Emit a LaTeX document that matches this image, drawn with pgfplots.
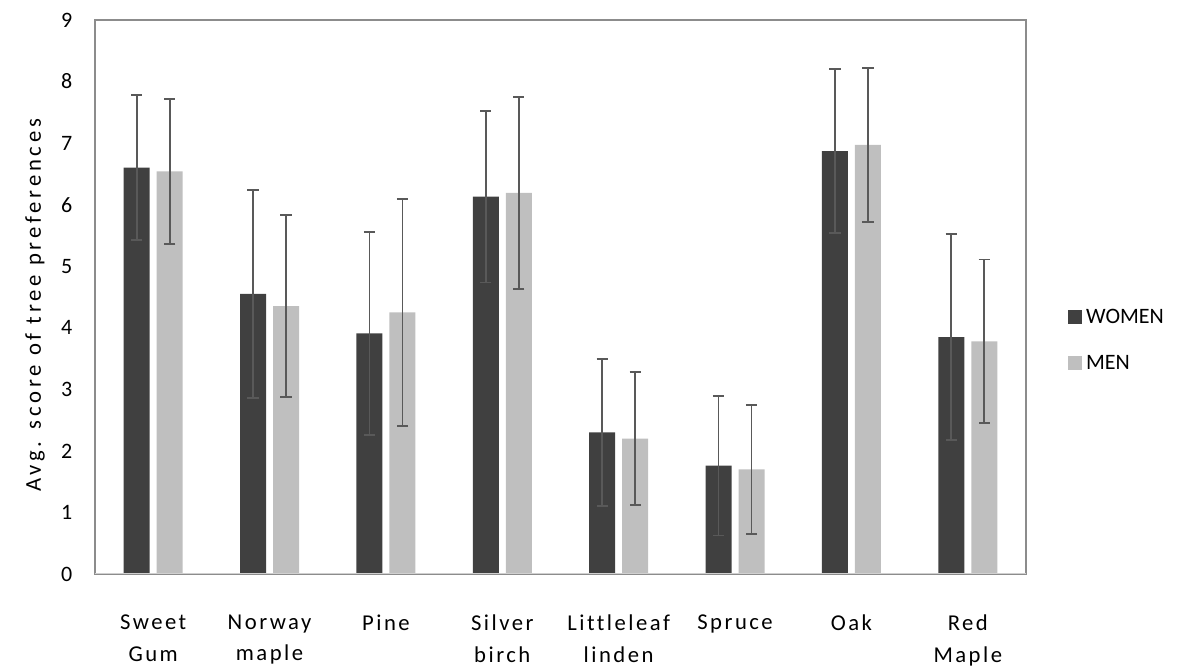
\documentclass[border=0pt]{standalone}
\usepackage{pgfplots}
\pgfplotsset{compat=1.18}
\usepackage{fontspec}
\setmainfont{Carlito}
\newfontfamily\spaced[LetterSpace=11, Ligatures={NoCommon}]{Carlito}
\newfontfamily\spacedlabel[LetterSpace=17, Ligatures={NoCommon}]{Carlito}
\definecolor{darkbar}{HTML}{404040}
\definecolor{lightbar}{HTML}{BFBFBF}
\definecolor{errc}{HTML}{595959}
\definecolor{framec}{HTML}{8C8C8C}
\definecolor{basec}{HTML}{D0D0D0}
\begin{document}
\begin{tikzpicture}
\useasboundingbox (-71.25pt,-69pt) rectangle (812.25pt,430.5pt);
\begin{axis}[
  at={(0,0)}, anchor=south west,
  scale only axis,
  width=698.25pt, height=415.5pt,
  ybar=5.25pt, bar width=19.5pt,
  xmin=-0.5, xmax=7.5,
  ymin=0, ymax=9,
  ytick={0,1,2,3,4,5,6,7,8,9},
  xtick=data,
  xticklabels={{Sweet\\Gum},{Norway\\maple},{Pine},{Silver\\birch},{Littleleaf\\linden},{Spruce},{Oak},{Red\\Maple}},
  major tick length=0pt,
  axis line style={framec, line width=0.9pt},
  /pgf/number format/assume math mode=true,
  yticklabel style={font=\fontsize{16.5}{20}\selectfont, xshift=-13.5pt},
  xticklabel style={font=\fontsize{17}{23.8}\selectfont\spaced, align=center, anchor=north, yshift=-27pt},
  ylabel={Avg. score of tree preferences},
  ylabel style={font=\fontsize{17}{18}\selectfont\spacedlabel, at={(axis description cs:-0.0644,0.485)}, anchor=center},
  legend style={at={(rel axis cs:1.045,0.422)}, anchor=west, draw=none, fill=none,
    font=\fontsize{16.5}{20}\selectfont, row sep=16pt, inner sep=0pt,
    nodes={inner sep=3pt}},
  legend cell align=left,
  legend image code/.code={\fill[#1] (0pt,-5.25pt) rectangle (10.5pt,5.25pt);},
  error bars/y dir=both,
  error bars/y explicit,
  error bars/error bar style={errc, line width=1.4pt},
  error bars/error mark options={errc, rotate=90, mark size=4.2pt, line width=1.4pt},
]
\addplot[fill=darkbar, draw=none] coordinates {
  (0,6.60) +- (0,1.18)
  (1,4.55) +- (0,1.69)
  (2,3.91) +- (0,1.645)
  (3,6.13) +- (0,1.395)
  (4,2.30) +- (0,1.19)
  (5,1.76) +- (0,1.135)
  (6,6.87) +- (0,1.335)
  (7,3.85) +- (0,1.68)
};
\addplot[fill=lightbar, draw=none] coordinates {
  (0,6.54) +- (0,1.175)
  (1,4.35) +- (0,1.48)
  (2,4.25) +- (0,1.84)
  (3,6.19) +- (0,1.565)
  (4,2.20) +- (0,1.08)
  (5,1.70) +- (0,1.045)
  (6,6.97) +- (0,1.245)
  (7,3.78) +- (0,1.33)
};
\legend{WOMEN,MEN}
\draw[basec, line width=1.1pt] (rel axis cs:0,0) -- (rel axis cs:1,0);
\end{axis}
\end{tikzpicture}
\end{document}
